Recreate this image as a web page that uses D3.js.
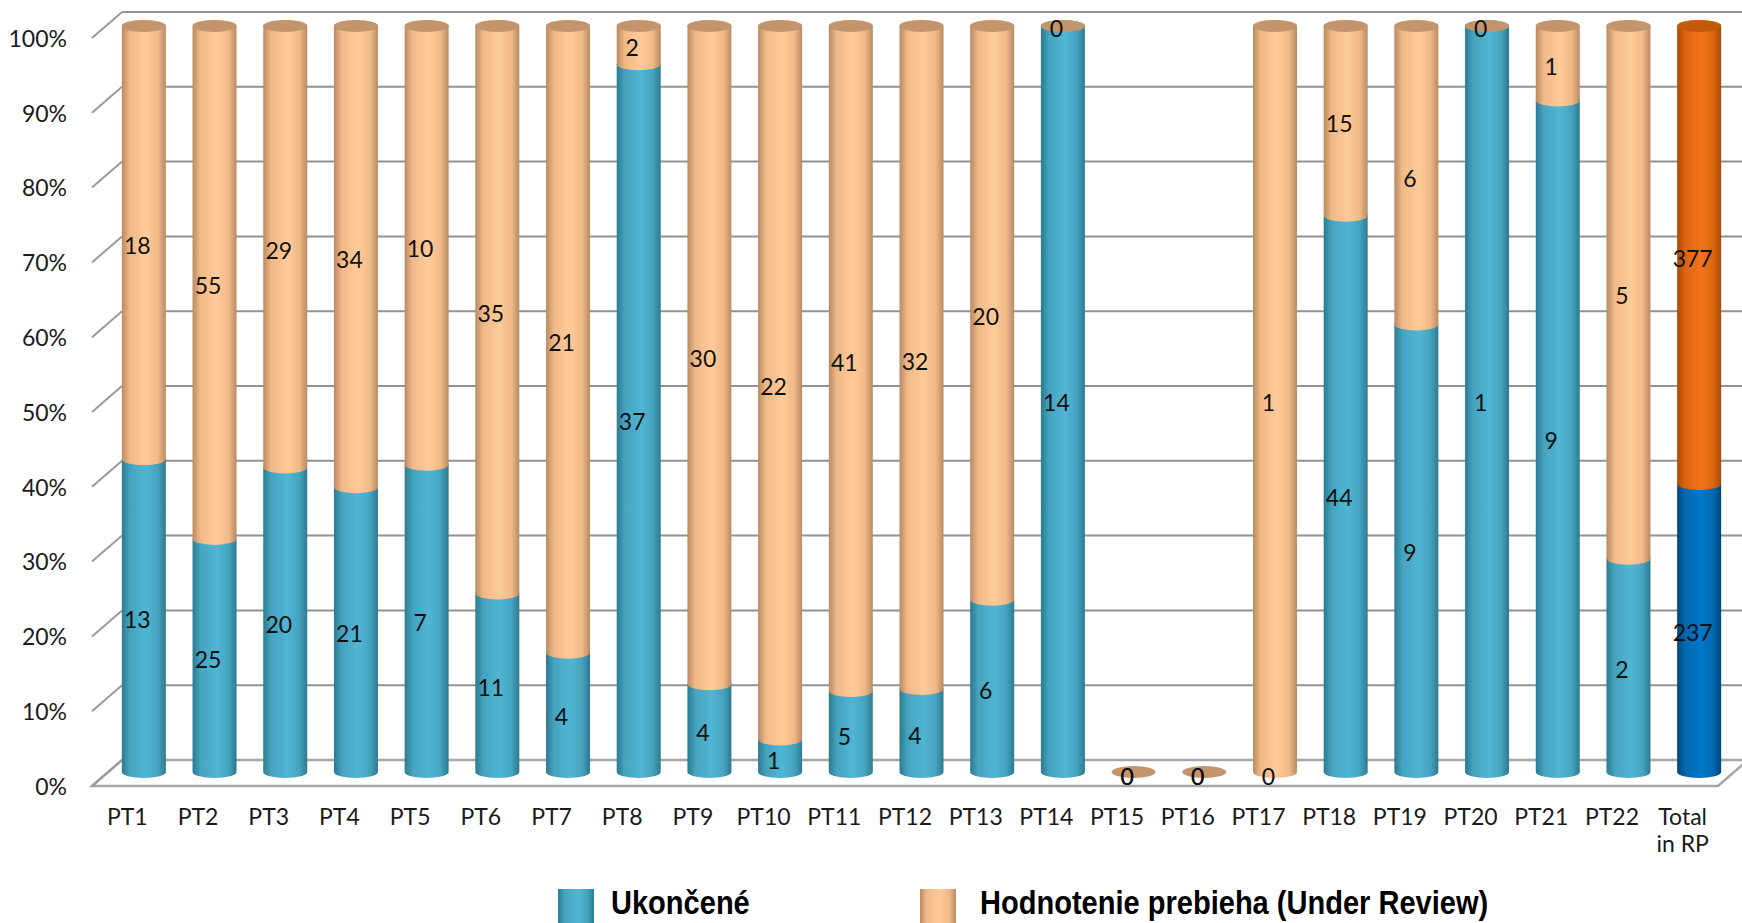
<!DOCTYPE html>
<html>
<head>
<meta charset="utf-8">
<script src="https://cdn.jsdelivr.net/npm/d3@7"></script>
<style>
  html, body { margin: 0; padding: 0; background: #ffffff; overflow: hidden; }
  svg { display: block; }
</style>
</head>
<body>
<svg id="chart" width="1742" height="923"></svg>
<script>
// ---------- data ----------
const categories = ["PT1","PT2","PT3","PT4","PT5","PT6","PT7","PT8","PT9","PT10","PT11",
  "PT12","PT13","PT14","PT15","PT16","PT17","PT18","PT19","PT20","PT21","PT22","Total in RP"];
const completed = [13,25,20,21,7,11,4,37,4,1,5,4,6,14,0,0,0,44,9,1,9,2,237];
const underReview = [18,55,29,34,10,35,21,2,30,22,41,32,20,0,0,0,1,15,6,0,1,5,377];
const seriesNames = ["Ukončené", "Hodnotenie prebieha (Under Review)"];
const tickValues = [0,0.1,0.2,0.3,0.4,0.5,0.6,0.7,0.8,0.9,1];

// ---------- geometry ----------
const W = 1742, H = 923;
const depthX = 30;
const svg = d3.select("#chart");
const x = d3.scaleBand().domain(categories).range([92, 1718]).padding(0);
const yFront = d3.scaleLinear().domain([0,1]).range([786, 38]);
const yBack  = d3.scaleLinear().domain([0,1]).range([760, 12]);
const yCyl   = d3.scaleLinear().domain([0,1]).range([772, 26]);
const yLab   = d3.scaleLinear().domain([0,1]).range([777, 29]);
const cylW = 44, rx = cylW/2, ry = 6;
const cylOffset = 16.5;

const labelFont = "Lato, 'Liberation Sans', sans-serif";

// ---------- gradients ----------
const defs = svg.append("defs");
function grad(id, edge, mid, mid2) {
  const g = defs.append("linearGradient").attr("id", id)
    .attr("x1", 0).attr("x2", 1).attr("y1", 0).attr("y2", 0);
  g.append("stop").attr("offset", "0%").attr("stop-color", edge);
  g.append("stop").attr("offset", "18%").attr("stop-color", mid2);
  g.append("stop").attr("offset", "55%").attr("stop-color", mid);
  g.append("stop").attr("offset", "82%").attr("stop-color", mid2);
  g.append("stop").attr("offset", "100%").attr("stop-color", edge);
}
grad("gBlue", "#2c7a90", "#50b6d4", "#45a3bf");
grad("gPeach", "#b98a62", "#ffcb98", "#f0b988");
grad("gTotBlue", "#00467c", "#0078c9", "#0068b0");
grad("gTotOrange", "#a84a00", "#f2741a", "#dc6410");

// ---------- walls / gridlines ----------
const grid = svg.append("g");
grid.append("path")
  .attr("d", `M${92},${yFront(0)} L${1718},${yFront(0)} L${1718+depthX},${yBack(0)} L${92+depthX},${yBack(0)} Z`)
  .attr("fill", "#ffffff").attr("stroke", "#a6a6a6").attr("stroke-width", 2.5);
tickValues.forEach(v => {
  grid.append("line")
    .attr("x1", 92).attr("y1", yFront(v)).attr("x2", 92 + depthX).attr("y2", yBack(v))
    .attr("stroke", "#9a9a9a").attr("stroke-width", 2);
  if (v > 0) {
    grid.append("line")
      .attr("x1", 92 + depthX).attr("y1", yBack(v)).attr("x2", W).attr("y2", yBack(v))
      .attr("stroke", "#929292").attr("stroke-width", 2);
  }
});

// ---------- axis ----------
const axis = d3.axisLeft(yFront).tickValues(tickValues).tickFormat(d3.format(".0%"))
  .tickSize(0).tickPadding(0);
const axG = svg.append("g").attr("transform", "translate(67,0)").call(axis);
axG.select(".domain").remove();
axG.selectAll("text").attr("font-family", labelFont).attr("font-size", 23).attr("fill", "#1a1a1a")
  .attr("dy", "0.36em");

// ---------- cylinders ----------
const data = categories.map((c, i) => {
  const tot = completed[i] + underReview[i];
  const p1 = tot > 0 ? completed[i] / tot : 0;
  const p2 = tot > 0 ? 1 : 0;
  const isTotal = i === categories.length - 1;
  return { c, i, tot, isTotal,
    segs: [
      { v0: 0, v1: p1, val: completed[i], fill: isTotal ? "url(#gTotBlue)" : "url(#gBlue)" },
      { v0: p1, v1: p2, val: underReview[i], fill: isTotal ? "url(#gTotOrange)" : "url(#gPeach)" }
    ],
    cap: isTotal ? "#c25a08" : "#c4946c"
  };
});

function segPath(cx, v0, v1) {
  const L = cx - rx, R = cx + rx;
  const yb = yCyl(v0), yt = yCyl(v1);
  return `M${L},${yt} L${L},${yb} A${rx},${ry} 0 0 0 ${R},${yb} L${R},${yt} A${rx},${ry} 0 0 0 ${L},${yt} Z`;
}

const cyl = svg.append("g");
data.forEach(d => {
  const cx = x(d.c) + x.bandwidth()/2 + cylOffset;
  const g = cyl.append("g");
  d.segs.forEach(s => {
    if (s.v1 > s.v0) {
      g.append("path").attr("d", segPath(cx, s.v0, s.v1)).attr("fill", s.fill);
    }
  });
  const topV = d.segs[1].v1;
  g.append("ellipse").attr("cx", cx).attr("cy", yCyl(topV)).attr("rx", rx).attr("ry", ry)
    .attr("fill", d.cap);
});

// ---------- data labels ----------
const labs = svg.append("g");
data.forEach(d => {
  const lx = x(d.c) + x.bandwidth()/2 + 10;
  d.segs.forEach(s => {
    labs.append("text")
      .attr("x", lx).attr("y", yLab((s.v0 + s.v1)/2))
      .attr("dy", "0.36em").attr("text-anchor", "middle")
      .attr("font-family", labelFont).attr("font-size", 23).attr("fill", "#111")
      .text(s.val);
  });
});

// ---------- category labels ----------
const cats = svg.append("g");
categories.forEach(c => {
  const t = cats.append("text")
    .attr("x", x(c) + x.bandwidth()/2).attr("y", 825)
    .attr("text-anchor", "middle")
    .attr("font-family", labelFont).attr("font-size", 23).attr("fill", "#1a1a1a");
  const parts = c === "Total in RP" ? ["Total", "in RP"] : [c];
  parts.forEach((p, k) => {
    t.append("tspan").attr("x", x(c) + x.bandwidth()/2).attr("dy", k === 0 ? 0 : 27).text(p);
  });
});

// ---------- legend ----------
const legend = svg.append("g");
const legItems = [
  { name: seriesNames[0], fill: "url(#gBlue)", sx: 558, tx: 611 },
  { name: seriesNames[1], fill: "url(#gPeach)", sx: 920, tx: 980 }
];
legItems.forEach(it => {
  legend.append("rect").attr("x", it.sx).attr("y", 889).attr("width", 36).attr("height", 40)
    .attr("fill", it.fill);
  legend.append("text")
    .attr("transform", `translate(${it.tx},914) scale(0.88,1)`)
    .attr("font-family", "'Liberation Sans', Arial, sans-serif")
    .attr("font-weight", "bold").attr("font-size", 33).attr("fill", "#000")
    .text(it.name);
});
</script>
</body>
</html>
